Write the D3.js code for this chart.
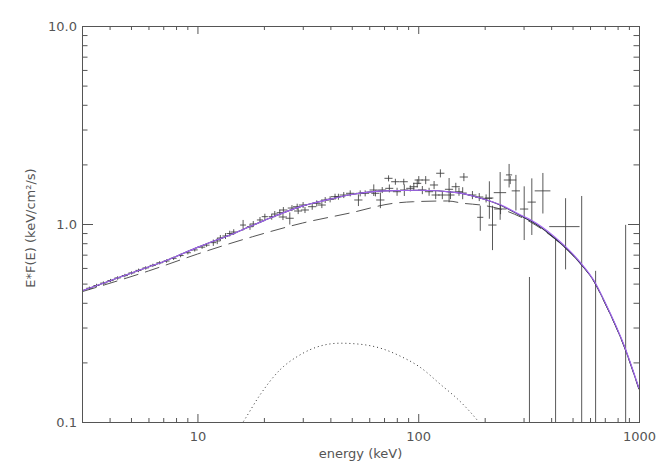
<!DOCTYPE html>
<html>
<head>
<meta charset="utf-8">
<script src="https://cdn.jsdelivr.net/npm/d3@7"></script>
<style>
  body { margin: 0; background: #fff; }
  svg { display: block; }
  text { font-family: "DejaVu Sans", sans-serif; fill: #555; }
</style>
</head>
<body>
<div id="chart"></div>
<script>
// ---- data ----------------------------------------------------------------

// total model (purple) and the dark model underneath it
const modelE = [3, 4, 5, 6, 7, 8, 10, 15, 20, 30, 40, 50, 70, 100, 150, 192, 236, 291, 324, 414, 465, 547, 630, 694, 861, 1000];
const modelF = [0.46, 0.516, 0.564, 0.607, 0.645, 0.686, 0.762, 0.906, 1.04, 1.235, 1.335, 1.41, 1.47, 1.48, 1.44, 1.35, 1.25, 1.11, 1.047, 0.863, 0.768, 0.633, 0.511, 0.413, 0.24, 0.148];
const darkF  = [0.46, 0.516, 0.564, 0.607, 0.645, 0.686, 0.762, 0.906, 1.04, 1.235, 1.335, 1.41, 1.47, 1.48, 1.44, 1.35, 1.245, 1.10, 1.035, 0.85, 0.758, 0.626, 0.507, 0.41, 0.238, 0.147];

// dashed component
const cutoffE = [3, 6, 10, 11.4, 17.8, 30, 49.2, 77.2, 95.3, 136, 160, 192, 236, 291, 324, 414, 465, 547, 630, 694, 861, 1000];
const cutoffF = [0.455, 0.579, 0.705, 0.74, 0.863, 1.012, 1.137, 1.272, 1.296, 1.307, 1.272, 1.247, 1.19, 1.085, 1.02, 0.845, 0.755, 0.625, 0.505, 0.408, 0.237, 0.146];

// dotted component
const bumpE = [14, 16.1, 19.2, 23.6, 29.1, 36, 44.3, 54.6, 67.4, 83, 102, 126, 156, 188, 210];
const bumpF = [0.08, 0.1, 0.137, 0.183, 0.218, 0.242, 0.25, 0.247, 0.236, 0.215, 0.189, 0.155, 0.126, 0.1, 0.085];

// data points: energy, half width, flux, flux error
const dataE = [3.24, 3.49, 3.75, 4.04, 4.35, 4.69, 5.03, 5.41, 5.83, 6.28, 6.74, 7.25, 7.8, 8.39, 9.05, 9.72, 10.5, 11.0, 11.8, 12.3, 12.7, 13.4, 14.0, 14.6,
  16.1, 17.3, 17.9, 19.2, 20.2, 21.7, 22.4, 23.6, 24.5, 24.4, 26.2, 26.8, 28.3, 28.6, 30.1, 30.7, 33.1, 34.7, 36.6, 37.9, 39.9, 42.0, 43.5, 46.0, 49.2,
  53.6, 54.6, 57.5, 62.9, 64.0, 67.4, 68.7, 73.4, 74.0, 78.8, 80.2, 86.0, 86.5, 92.1, 95.5, 99.0, 100.6, 104.4, 108.1, 112, 118, 120, 126, 128.6,
  138, 140, 148, 153, 161, 159, 176, 189, 191, 203, 210, 217, 235, 236, 258, 261, 277, 302, 327, 367, 465,
  319, 419, 550, 636, 870];
const dataEerr = [0.10, 0.11, 0.12, 0.13, 0.14, 0.15, 0.16, 0.17, 0.19, 0.20, 0.22, 0.23, 0.25, 0.27, 0.29, 0.31, 0.34, 0.35, 0.38, 0.39, 0.41, 0.43, 0.45, 0.47,
  0.5, 0.55, 0.57, 0.61, 0.65, 0.69, 0.72, 0.75, 1.05, 1.05, 1.1, 1.15, 1.2, 1.2, 1.3, 1.3, 1.4, 1.5, 1.55, 1.6, 1.7, 1.8, 1.85, 1.95, 2.1,
  2.3, 2.3, 2.45, 2.7, 2.7, 2.9, 2.9, 3.1, 3.1, 3.4, 3.4, 3.7, 3.7, 3.9, 4.1, 4.2, 4.3, 4.5, 4.6, 4.8, 5.0, 5.1, 5.4, 5.5,
  5.9, 6.0, 6.3, 6.5, 6.9, 6.8, 7.5, 8.1, 6.1, 13.2, 9.0, 9.3, 15.2, 15.3, 8.3, 16.9, 11.9, 13, 14, 30, 73,
  10, 15, 20, 20, 30];
const dataF = [0.474, 0.489, 0.503, 0.518, 0.534, 0.549, 0.566, 0.583, 0.6, 0.618, 0.637, 0.65, 0.671, 0.693, 0.716, 0.74, 0.764, 0.782, 0.805, 0.821, 0.85, 0.87, 0.895, 0.911,
  0.988, 0.969, 1.0, 1.048, 1.089, 1.089, 1.123, 1.141, 1.177, 1.085, 1.069, 1.204, 1.223, 1.163, 1.247, 1.177, 1.223, 1.272, 1.247, 1.322, 1.333, 1.374, 1.374, 1.401, 1.429,
  1.322, 1.429, 1.429, 1.485, 1.429, 1.322, 1.485, 1.701, 1.514, 1.635, 1.456, 1.635, 1.485, 1.514, 1.543, 1.605, 1.668, 1.485, 1.668, 1.456, 1.574, 1.401, 1.804, 1.401,
  1.497, 1.401, 1.543, 1.456, 1.727, 1.434, 1.401, 1.369, 1.081, 1.348, 1.353, 0.988, 1.44, 1.191, 1.77, 1.668, 1.47, 1.19, 1.29, 1.47, 0.97,
  0.04, 0.04, 0.04, 0.04, 0.04];
const dataFerr = [0.009, 0.010, 0.010, 0.010, 0.011, 0.011, 0.011, 0.012, 0.012, 0.012, 0.012, 0.013, 0.013, 0.014, 0.014, 0.014, 0.015, 0.015, 0.03, 0.03, 0.03, 0.03, 0.03, 0.03,
  0.06, 0.035, 0.035, 0.037, 0.038, 0.038, 0.04, 0.04, 0.041, 0.038, 0.075, 0.042, 0.043, 0.041, 0.044, 0.041, 0.043, 0.045, 0.044, 0.046, 0.047, 0.048, 0.048, 0.049, 0.05,
  0.09, 0.05, 0.05, 0.1, 0.05, 0.12, 0.052, 0.06, 0.07, 0.057, 0.068, 0.057, 0.1, 0.053, 0.072, 0.075, 0.078, 0.07, 0.078, 0.068, 0.074, 0.066, 0.085, 0.066,
  0.21, 0.066, 0.072, 0.068, 0.081, 0.1, 0.066, 0.064, 0.157, 0.063, 0.29, 0.25, 0.39, 0.07, 0.24, 0.078, 0.30, 0.36, 0.41, 0.34, 0.38,
  0.50, 0.80, 1.345, 0.54, 0.95];

// axis ticks
const xMajor = [10, 100, 1000];
const xMinor = [4, 5, 6, 7, 8, 9, 20, 30, 40, 50, 60, 70, 80, 90, 200, 300, 400, 500, 600, 700, 800, 900];
const yMajor = [0.1, 1, 10];
const yMinor = [0.2, 0.3, 0.4, 0.5, 0.6, 0.7, 0.8, 0.9, 2, 3, 4, 5, 6, 7, 8, 9];

// ---- layout ----------------------------------------------------------------
const W = 664, H = 475;
const plotL = 82, plotR = 639, plotT = 26, plotB = 422;
const axisColor = '#555';

const svg = d3.select('#chart').append('svg')
    .attr('width', W)
    .attr('height', H);

svg.append('rect').attr('width', W).attr('height', H).attr('fill', '#fff');

const x = d3.scaleLog().domain([3, 1000]).range([plotL, plotR]);
const y = d3.scaleLog().domain([0.1, 10]).range([plotB, plotT]);

svg.append('clipPath').attr('id', 'plot-clip')
  .append('rect')
    .attr('x', plotL).attr('y', plotT)
    .attr('width', plotR - plotL).attr('height', plotB - plotT);

const plot = svg.append('g').attr('clip-path', 'url(#plot-clip)');

const zip = (es, fs) => es.map((e, i) => ({ e: e, f: fs[i] }));
const line = d3.line()
    .x(d => x(d.e))
    .y(d => y(d.f))
    .curve(d3.curveMonotoneX);

// dotted component
plot.append('path')
    .datum(zip(bumpE, bumpF))
    .attr('fill', 'none')
    .attr('stroke', '#333')
    .attr('stroke-width', 1)
    .attr('stroke-dasharray', '1,3')
    .attr('d', line);

// dashed component
plot.append('path')
    .datum(zip(cutoffE, cutoffF))
    .attr('fill', 'none')
    .attr('stroke', '#555')
    .attr('stroke-width', 1)
    .attr('stroke-dasharray', '15,7')
    .attr('d', line);

// data crosses
const pts = dataE.map((e, i) => ({ e: e, de: dataEerr[i], f: dataF[i], df: dataFerr[i] }));
const cross = plot.append('g')
    .attr('stroke', '#3c3c3c')
    .attr('stroke-width', 1)
    .attr('stroke-opacity', 0.85);

pts.forEach(p => {
    const cx = x(p.e);
    const cy = y(p.f);
    const lo = Math.max(p.f - p.df, 0.01);
    cross.append('line')
        .attr('x1', x(p.e - p.de)).attr('x2', x(p.e + p.de))
        .attr('y1', cy).attr('y2', cy);
    cross.append('line')
        .attr('x1', cx).attr('x2', cx)
        .attr('y1', y(lo)).attr('y2', y(p.f + p.df));
});

// models
plot.append('path')
    .datum(zip(modelE, darkF))
    .attr('fill', 'none')
    .attr('stroke', '#2a2a45')
    .attr('stroke-width', 1.1)
    .attr('d', line);

plot.append('path')
    .datum(zip(modelE, modelF))
    .attr('fill', 'none')
    .attr('stroke', '#a466f2')
    .attr('stroke-width', 1.1)
    .attr('d', line);

// ---- axes ------------------------------------------------------------------
function styleAxis(g) {
    g.select('.domain').remove();
    g.selectAll('line').attr('stroke', axisColor);
    g.selectAll('text')
        .style('font-family', '"DejaVu Sans", sans-serif')
        .style('font-size', '13px')
        .attr('fill', '#555');
}

// bottom
svg.append('g').attr('transform', `translate(0,${plotB})`)
    .call(d3.axisBottom(x).tickValues(xMajor).tickSize(-8).tickPadding(10).tickFormat(d3.format('d')))
    .call(styleAxis);
svg.append('g').attr('transform', `translate(0,${plotB})`)
    .call(d3.axisBottom(x).tickValues(xMinor).tickSize(-4).tickFormat(''))
    .call(styleAxis);
// top
svg.append('g').attr('transform', `translate(0,${plotT})`)
    .call(d3.axisTop(x).tickValues(xMajor).tickSize(-8).tickFormat(''))
    .call(styleAxis);
svg.append('g').attr('transform', `translate(0,${plotT})`)
    .call(d3.axisTop(x).tickValues(xMinor).tickSize(-4).tickFormat(''))
    .call(styleAxis);
// left
svg.append('g').attr('transform', `translate(${plotL},0)`)
    .call(d3.axisLeft(y).tickValues(yMajor).tickSize(-11).tickPadding(5).tickFormat(d3.format('.1f')))
    .call(styleAxis);
svg.append('g').attr('transform', `translate(${plotL},0)`)
    .call(d3.axisLeft(y).tickValues(yMinor).tickSize(-5.5).tickFormat(''))
    .call(styleAxis);
// right
svg.append('g').attr('transform', `translate(${plotR},0)`)
    .call(d3.axisRight(y).tickValues(yMajor).tickSize(-11).tickFormat(''))
    .call(styleAxis);
svg.append('g').attr('transform', `translate(${plotR},0)`)
    .call(d3.axisRight(y).tickValues(yMinor).tickSize(-5.5).tickFormat(''))
    .call(styleAxis);

// frame
svg.append('rect')
    .attr('x', plotL + 0.5).attr('y', plotT + 0.5)
    .attr('width', plotR - plotL).attr('height', plotB - plotT)
    .attr('fill', 'none')
    .attr('stroke', axisColor)
    .attr('stroke-width', 1);

// ---- labels ----------------------------------------------------------------
svg.append('text')
    .attr('x', (plotL + plotR) / 2)
    .attr('y', 458)
    .attr('text-anchor', 'middle')
    .style('font-size', '13px')
    .text('energy (keV)');

svg.append('text')
    .attr('transform', `translate(35,${(plotT + plotB) / 2 + 4}) rotate(-90)`)
    .attr('text-anchor', 'middle')
    .style('font-size', '13px')
    .text('E*F(E) (keV/cm²/s)');
</script>
</body>
</html>
